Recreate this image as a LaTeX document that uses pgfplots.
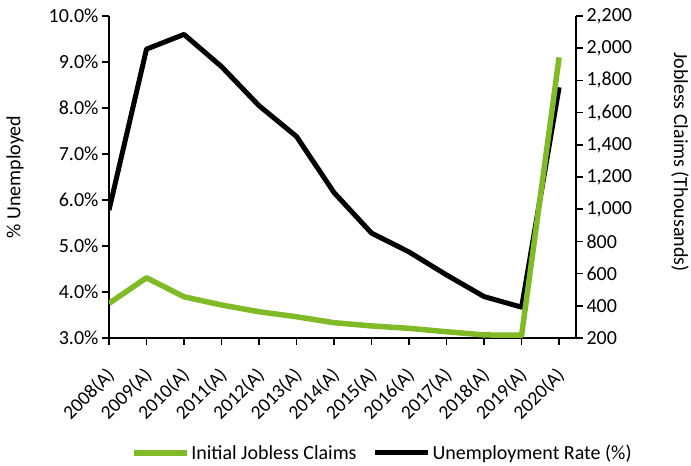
\documentclass[border=0pt]{standalone}
\usepackage{pgfplots}
\pgfplotsset{compat=1.18}
\usepackage{pgfplotstable}
\usepackage{fontspec}
\setmainfont{Carlito}
\definecolor{claimsgreen}{RGB}{128,186,39}

% Annual unemployment rate (%) and initial jobless claims (thousands)
\pgfplotstableread{
idx year rate claims
0  2008 5.78 415
1  2009 9.28 574
2  2010 9.60 456
3  2011 8.90 405
4  2012 8.05 363
5  2013 7.38 332
6  2014 6.16 295
7  2015 5.28 275
8  2016 4.87 260
9  2017 4.37 239
10 2018 3.90 219
11 2019 3.67 217
12 2020 8.45 1943
}\econdata

\pgfplotsset{
  base/.style={
    scale only axis, width=467pt, height=322pt,
    at={(0pt,0pt)}, anchor=south west,
    xmin=0, xmax=12.45,
    font=\fontsize{20}{24}\selectfont,
    axis line style={line width=1.6pt},
    tick style={line width=1.6pt, black},
    major tick length=7pt,
    tick align=outside,
    /pgf/number format/assume math mode=true,
  },
}

\begin{document}
\begin{tikzpicture}
\useasboundingbox (-109pt,-128pt) rectangle (582pt,338pt);

% Left axis: unemployment rate
\begin{axis}[base,
  axis x line*=bottom, axis y line*=left,
  ymin=3, ymax=10, ytick={3,4,...,10},
  yticklabel={\pgfmathprintnumber[fixed,fixed zerofill,precision=1]{\tick}\%},
  xtick={0,...,12},
  xticklabels={2008(A),2009(A),2010(A),2011(A),2012(A),2013(A),2014(A),2015(A),2016(A),2017(A),2018(A),2019(A),2020(A)},
  xticklabel style={xshift=3pt, rotate=45, anchor=east, inner sep=1pt,
    font=\fontsize{19.5}{23}\selectfont},
  xticklabel shift=26pt,
  ylabel={\% Unemployed},
  every axis y label/.style={at={(axis description cs:-0.2013,0.5)}, rotate=90, anchor=center},
]
\addplot[black, line width=5pt, line join=round] table[x=idx, y=rate] {\econdata};
\end{axis}

% Right axis: initial jobless claims
\begin{axis}[base,
  axis x line=none, axis y line*=right,
  ymin=200, ymax=2200, ytick={200,400,...,2200},
  yticklabel style={/pgf/number format/.cd, 1000 sep={,}},
  ylabel={Jobless Claims (Thousands)},
  every axis y label/.style={at={(axis description cs:1.2227,0.547)}, rotate=-90, anchor=center},
  legend columns=2,
  legend style={draw=none, fill=none, at={(axis description cs:0.585,-0.357)}, anchor=center,
    font=\fontsize{20}{24}\selectfont,
    /tikz/every even column/.append style={column sep=14pt}},
  legend image code/.code={\draw[#1] (0pt,0pt) -- (53pt,0pt);},
]
\addplot[claimsgreen, line width=5.5pt, line join=round] table[x=idx, y=claims] {\econdata};
\addlegendentry{Initial Jobless Claims}
\addlegendimage{black, line width=5pt}
\addlegendentry{Unemployment Rate (\%)}
\end{axis}
\end{tikzpicture}
\end{document}
